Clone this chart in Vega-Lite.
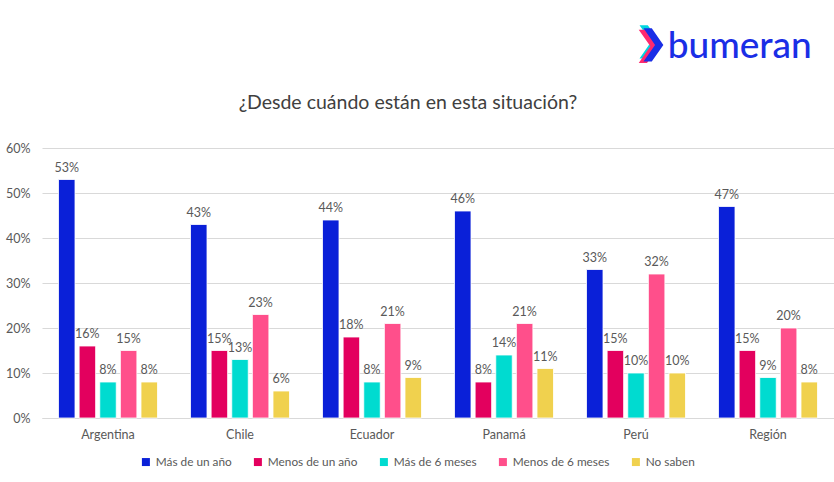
{
  "$schema": "https://vega.github.io/schema/vega-lite/v6.json",
  "width": 792,
  "height": 270,
  "autosize": {"type": "none"},
  "padding": {"left": 42, "top": 148, "right": 0, "bottom": 64},
  "background": "white",
  "config": {
    "font": "Lato",
    "view": {"stroke": null},
    "axis": {"labelFont": "Lato", "labelColor": "#595959", "labelFontSize": 12.5}
  },
  "resolve": {"scale": {"x": "independent"}, "axis": {"x": "independent"}},
  "layer": [
    {
      "data": {
        "values": [
          {"pais": "Argentina", "serie": "Más de un año", "valor": 0.53},
          {"pais": "Argentina", "serie": "Menos de un año", "valor": 0.16},
          {"pais": "Argentina", "serie": "Más de 6 meses", "valor": 0.08},
          {"pais": "Argentina", "serie": "Menos de 6 meses", "valor": 0.15},
          {"pais": "Argentina", "serie": "No saben", "valor": 0.08},
          {"pais": "Chile", "serie": "Más de un año", "valor": 0.43},
          {"pais": "Chile", "serie": "Menos de un año", "valor": 0.15},
          {"pais": "Chile", "serie": "Más de 6 meses", "valor": 0.13},
          {"pais": "Chile", "serie": "Menos de 6 meses", "valor": 0.23},
          {"pais": "Chile", "serie": "No saben", "valor": 0.06},
          {"pais": "Ecuador", "serie": "Más de un año", "valor": 0.44},
          {"pais": "Ecuador", "serie": "Menos de un año", "valor": 0.18},
          {"pais": "Ecuador", "serie": "Más de 6 meses", "valor": 0.08},
          {"pais": "Ecuador", "serie": "Menos de 6 meses", "valor": 0.21},
          {"pais": "Ecuador", "serie": "No saben", "valor": 0.09},
          {"pais": "Panamá", "serie": "Más de un año", "valor": 0.46},
          {"pais": "Panamá", "serie": "Menos de un año", "valor": 0.08},
          {"pais": "Panamá", "serie": "Más de 6 meses", "valor": 0.14},
          {"pais": "Panamá", "serie": "Menos de 6 meses", "valor": 0.21},
          {"pais": "Panamá", "serie": "No saben", "valor": 0.11},
          {"pais": "Perú", "serie": "Más de un año", "valor": 0.33},
          {"pais": "Perú", "serie": "Menos de un año", "valor": 0.15},
          {"pais": "Perú", "serie": "Más de 6 meses", "valor": 0.10},
          {"pais": "Perú", "serie": "Menos de 6 meses", "valor": 0.32},
          {"pais": "Perú", "serie": "No saben", "valor": 0.10},
          {"pais": "Región", "serie": "Más de un año", "valor": 0.47},
          {"pais": "Región", "serie": "Menos de un año", "valor": 0.15},
          {"pais": "Región", "serie": "Más de 6 meses", "valor": 0.09},
          {"pais": "Región", "serie": "Menos de 6 meses", "valor": 0.20},
          {"pais": "Región", "serie": "No saben", "valor": 0.08}
        ]
      },
      "encoding": {
        "x": {
          "field": "pais",
          "type": "nominal",
          "sort": null,
          "scale": {"paddingInner": 0.25, "paddingOuter": 0.125},
          "axis": {
            "title": null,
            "labelAngle": 0,
            "ticks": false,
            "domain": true,
            "domainColor": "#d9d9d9",
            "labelPadding": 10
          }
        },
        "xOffset": {
          "field": "serie",
          "type": "nominal",
          "sort": ["Más de un año", "Menos de un año", "Más de 6 meses", "Menos de 6 meses", "No saben"],
          "scale": {"paddingInner": 0.2, "paddingOuter": 0}
        },
        "y": {
          "field": "valor",
          "type": "quantitative",
          "scale": {"domain": [0, 0.6], "nice": false},
          "axis": {
            "title": null,
            "format": ".0%",
            "values": [0, 0.1, 0.2, 0.3, 0.4, 0.5, 0.6],
            "domain": false,
            "ticks": false,
            "gridColor": "#d9d9d9",
            "labelPadding": 12
          }
        }
      },
      "layer": [
        {
          "mark": {"type": "bar", "stroke": "white", "strokeWidth": 0.8},
          "encoding": {
            "color": {
              "field": "serie",
              "type": "nominal",
              "scale": {
                "domain": ["Más de un año", "Menos de un año", "Más de 6 meses", "Menos de 6 meses", "No saben"],
                "range": ["#0a20d8", "#e3005e", "#00dbd0", "#ff4f8b", "#f0d14e"]
              },
              "legend": {
                "title": null,
                "orient": "none",
                "legendX": 98,
                "legendY": 308,
                "direction": "horizontal",
                "symbolType": "square",
                "symbolSize": 64,
                "symbolStrokeWidth": 0,
                "labelFont": "Lato",
                "labelFontSize": 11.8,
                "labelColor": "#595959",
                "labelOffset": 4,
                "columnPadding": 20
              }
            }
          }
        },
        {
          "mark": {"type": "text", "dy": -12, "fontSize": 12.5, "color": "#595959", "font": "Lato"},
          "encoding": {
            "text": {"field": "valor", "type": "quantitative", "format": ".0%"}
          }
        }
      ]
    },
    {
      "data": {"values": [{"logo": "bumeran", "titulo": "¿Desde cuándo están en esta situación?"}]},
      "encoding": {
        "x": {"datum": 0.769, "type": "quantitative", "scale": {"domain": [0, 1], "nice": false, "zero": false}, "axis": null}
      },
      "layer": [
        {
          "mark": {
            "type": "text",
            "align": "center",
            "baseline": "middle",
            "font": "Lato",
            "fontSize": 19.5,
            "color": "#404040"
          },
          "encoding": {
            "x": {"datum": 0.462, "type": "quantitative"},
            "y": {"datum": 0.7},
            "text": {"field": "titulo"}
          }
        },
        {
          "mark": {
            "type": "point",
            "filled": true,
            "opacity": 1,
            "shape": "M-0.6,-1 L-0.1,-1 L0.6,0 L-0.1,1 L-0.6,1 L0.1,0 Z",
            "color": "#00d6e0",
            "size": 1100
          },
          "encoding": {"x": {"datum": 0.767, "type": "quantitative"}, "y": {"datum": 0.836}}
        },
        {
          "mark": {
            "type": "point",
            "filled": true,
            "opacity": 1,
            "shape": "M-0.6,-1 L-0.1,-1 L0.6,0 L-0.1,1 L-0.6,1 L0.1,0 Z",
            "color": "#ff2a6e",
            "size": 1100
          },
          "encoding": {"x": {"datum": 0.766, "type": "quantitative"}, "y": {"datum": 0.826}}
        },
        {
          "mark": {
            "type": "point",
            "filled": true,
            "opacity": 1,
            "shape": "M-0.6,-1 L-0.1,-1 L0.6,0 L-0.1,1 L-0.6,1 L0.1,0 Z",
            "color": "#1a2ee6",
            "size": 1100
          },
          "encoding": {"x": {"datum": 0.772, "type": "quantitative"}, "y": {"datum": 0.829}}
        },
        {
          "mark": {
            "type": "text",
            "align": "left",
            "baseline": "alphabetic",
            "font": "Lato",
            "fontSize": 37,
            "fontWeight": 500,
            "color": "#1a2ee6"
          },
          "encoding": {
            "x": {"datum": 0.790, "type": "quantitative"},
            "y": {"datum": 0.8},
            "text": {"field": "logo"}
          }
        }
      ]
    }
  ]
}
